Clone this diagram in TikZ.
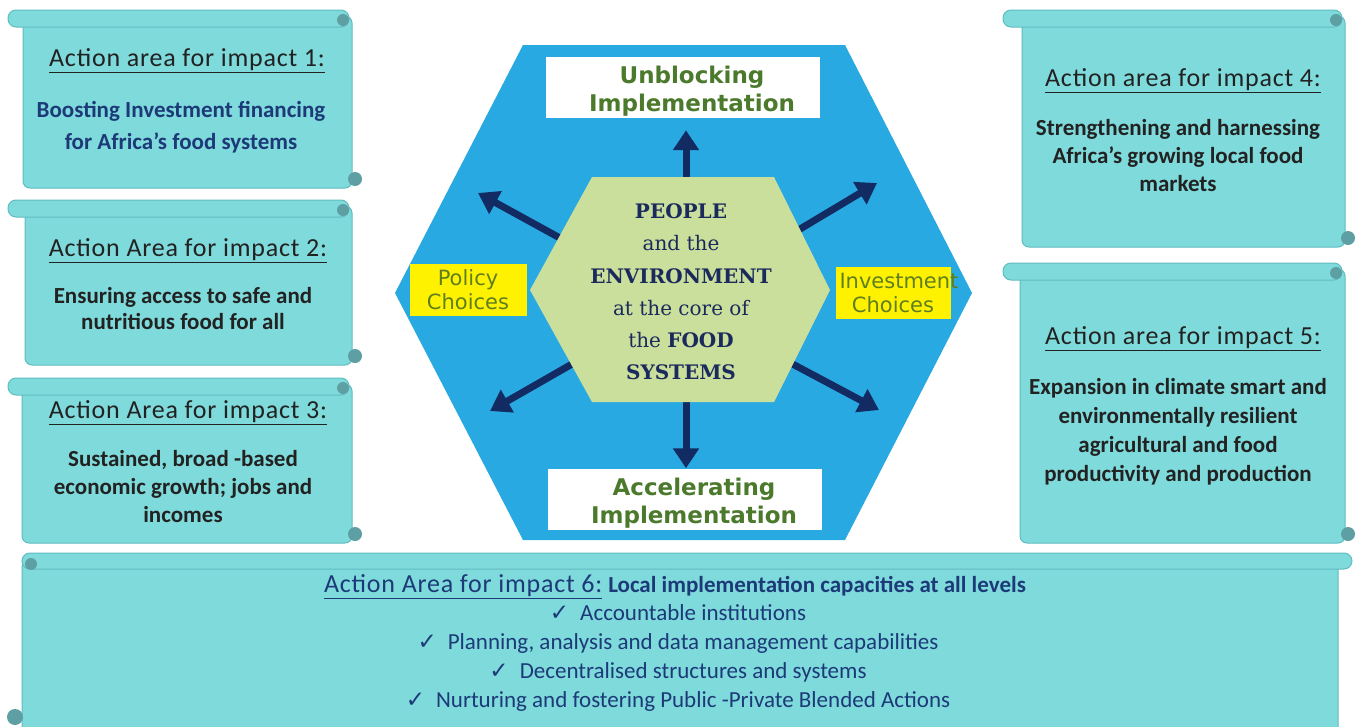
\documentclass[tikz,border=0pt]{standalone}
\usepackage{fontspec}
\setmainfont{Carlito}
\newfontfamily\coreserif{DejaVu Serif}
\newfontfamily\boxsans{DejaVu Sans}
\newfontfamily\symfont{DejaVu Sans}
\newfontfamily\titlefont[LetterSpace=3]{Carlito}
\usetikzlibrary{arrows.meta}
\definecolor{scrollfill}{HTML}{7FDADB}
\definecolor{scrolledge}{HTML}{5FBCBF}
\definecolor{curlc}{HTML}{5E9FA3}
\definecolor{hexblue}{HTML}{29A9E1}
\definecolor{coregreen}{HTML}{CADF9C}
\definecolor{navyc}{HTML}{132B63}
\definecolor{greentext}{HTML}{4C7A2C}
\definecolor{yellowc}{HTML}{FFF200}
\definecolor{olivetext}{HTML}{5F7F1E}
\definecolor{navytext}{HTML}{1D3A78}
\definecolor{titlec}{HTML}{222222}
\definecolor{coretext}{HTML}{1B2A5C}
\newcommand\fs[2]{\fontsize{#1pt}{#2pt}\selectfont}
\newcommand\scrollbox[5]{%
  \filldraw[fill=scrollfill,draw=scrolledge,line width=1pt,rounded corners=7pt] (#2,#3+6) rectangle (#4,#5);
  \filldraw[fill=scrollfill,draw=scrolledge,line width=1pt,rounded corners=8pt] (#1,#3) rectangle (#4-3,#3+17);
  \fill[curlc] (#4-9,#3+10) circle (6pt);
  \fill[curlc] (#4+3,#5-9) circle (7pt);
}
\begin{document}
\begin{tikzpicture}[x=1pt,y=-1pt,
  boxtitle/.style={font=\titlefont\fs{26}{30}, text=titlec, inner sep=0pt},
  boxbody/.style={font=\bfseries\fs{23}{#1}, align=center, inner sep=0pt, text=titlec},
  implbox/.style={fill=white, minimum width=274pt, minimum height=61pt, inner sep=0pt},
  impltext/.style={font=\boxsans\bfseries\fs{23}{28}, text=greentext, align=center, inner sep=0pt},
  choicebox/.style={fill=yellowc, inner sep=4pt, minimum height=52pt,
     font=\boxsans\fs{21}{24}, text=olivetext, align=center},
  outarrow/.style={draw=navyc, line width=7pt, -{Triangle[length=20pt,width=25pt]}}]
\useasboundingbox (0,0) rectangle (1360,726);
\fill[white] (0,0) rectangle (1360,726);

% scrolls
\scrollbox{8}{23}{10}{352}{188}
\scrollbox{8}{25}{200}{352}{365}
\scrollbox{8}{22}{378}{352}{543}
\scrollbox{1003}{1022}{10}{1345}{247}
\scrollbox{1003}{1020}{263}{1345}{543}
% bottom scroll
\filldraw[fill=scrollfill,draw=scrolledge,line width=1pt,rounded corners=7pt] (22,560) rectangle (1338,740);
\filldraw[fill=scrollfill,draw=scrolledge,line width=1pt,rounded corners=8pt] (22,553) rectangle (1352,569);
\fill[curlc] (31,564) circle (6pt);
\fill[curlc] (15,717) circle (8pt);

% box texts
\node[boxtitle] (t1) at (187,61) {\underline{Action area for impact 1:}};
\node[boxbody=32, text=navytext] (b1) at (181,127) {Boosting Investment financing\\for Africa’s food systems};
\node[boxtitle] (t2) at (188,251) {\underline{Action Area for impact 2:}};
\node[boxbody=26] (b2) at (183,309) {Ensuring access to safe and\\nutritious food for all};
\node[boxtitle] (t3) at (188,413) {\underline{Action Area for impact 3:}};
\node[boxbody=28] (b3) at (183,487) {Sustained, broad -based\\economic growth; jobs and\\incomes};
\node[boxtitle] (t4) at (1183,81) {\underline{Action area for impact 4:}};
\node[boxbody=28] (b4) at (1178,156) {Strengthening and harnessing\\Africa’s growing local food\\markets};
\node[boxtitle] (t5) at (1183,339) {\underline{Action area for impact 5:}};
\node[boxbody=29] (b5) at (1178,432) {Expansion in climate smart and\\environmentally resilient\\agricultural and food\\productivity and production};
\node[boxtitle, font=\fs{26}{30}, text=navytext] (t6) at (675,587) {{\titlefont\underline{Action Area for impact 6:}}\ {\fs{23}{28}\bfseries Local implementation capacities at all levels}};
\node[font=\fs{23}{29}, text=navytext, align=center, inner sep=0pt] (b6) at (678,658)
  {{\symfont ✓}\hspace{11pt}Accountable institutions\\
   {\symfont ✓}\hspace{11pt}Planning, analysis and data management capabilities\\
   {\symfont ✓}\hspace{11pt}Decentralised structures and systems\\
   {\symfont ✓}\hspace{11pt}Nurturing and fostering Public -Private Blended Actions};

% big hexagon
\fill[hexblue] (523,45) -- (845,45) -- (972,293) -- (845,540) -- (523,540) -- (395,293) -- cycle;

\node[implbox] (ub) at (683,87.5) {};
\node[impltext] (ubt) at (692,91) {Unblocking\\Implementation};
\node[implbox] (acc) at (685,499) {};
\node[impltext] (acct) at (694,503) {Accelerating\\Implementation};
\node[choicebox, text width=109pt] (pol) at (468,290) {Policy\\Choices};
\node[choicebox, text width=107pt] (inv) at (893,293) {Investment\\Choices};

% arrows
\coordinate (c) at (686,290);
\coordinate (sul) at (600,260);
\coordinate (tul) at (478,193);
\coordinate (sur) at (770,247);
\coordinate (tur) at (877,183);
\coordinate (sll) at (600,348);
\coordinate (tll) at (490,411);
\coordinate (slr) at (770,352);
\coordinate (tlr) at (879,410);
\draw[outarrow, shorten >=12pt] (c) -- (c |- ub.south);
\draw[outarrow] (c) -- (c |- acc.north);
\draw[outarrow] (sul) -- (tul);
\draw[outarrow] (sur) -- (tur);
\draw[outarrow] (sll) -- (tll);
\draw[outarrow] (slr) -- (tlr);

% core hexagon
\fill[coregreen] (592,177) -- (774,177) -- (830,290) -- (774,402) -- (592,402) -- (530,290) -- cycle;
\node[font=\coreserif\fs{20}{32.2}, text=coretext, align=center, inner sep=0pt] (core) at (681,292)
  {{\bfseries PEOPLE}\\and the\\{\bfseries ENVIRONMENT}\\at the core of\\the {\bfseries FOOD}\\{\bfseries SYSTEMS}};
\end{tikzpicture}
\end{document}
